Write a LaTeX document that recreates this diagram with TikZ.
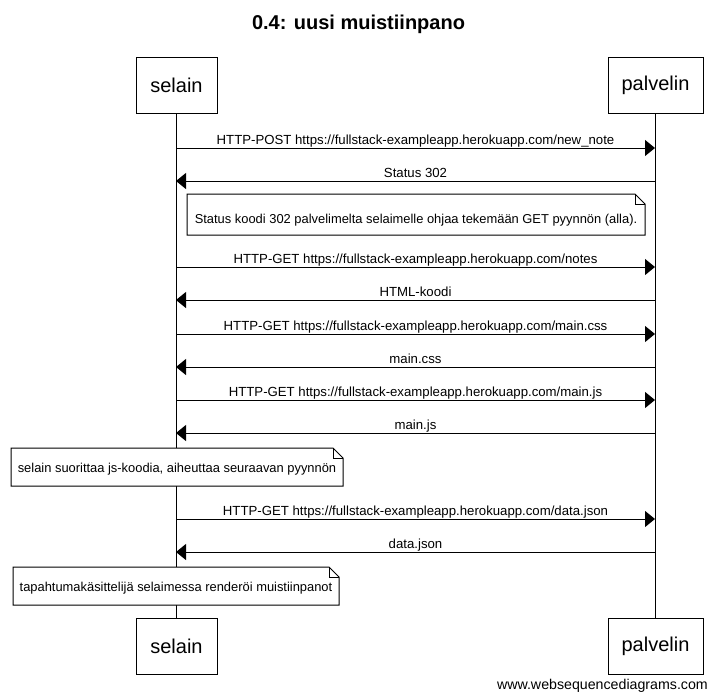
\documentclass[tikz,border=0pt]{standalone}
\usepackage{fontspec}
\setmainfont{Liberation Sans}
\usetikzlibrary{arrows.meta}
\begin{document}
\begin{tikzpicture}[x=1pt,y=-1pt,
  actor/.style={draw,line width=1pt,fill=white,minimum height=56pt,inner sep=0pt,
    font=\fontsize{20}{24}\selectfont},
  life/.style={line width=1pt},
  msg/.style={line width=1pt,-{Triangle[length=10pt,width=16pt]}},
  lbl/.style={inner sep=0pt,anchor=base,font=\fontsize{13.2}{15}\selectfont},
  notebox/.style={draw,line width=1pt,fill=white,line join=miter},
  notetext/.style={inner sep=0pt,anchor=base,font=\fontsize{12.9}{15}\selectfont}]
\useasboundingbox (0,0) rectangle (717,699);

% title
\node[inner sep=0pt,font=\bfseries\fontsize{20}{24}\selectfont] (title) at (358.5,24) {0.4: uusi muistiinpano};

% participants, top and bottom
\node[actor,minimum width=81pt] (st) at (176.5,85) {selain};
\node[actor,minimum width=95pt] (pt) at (655.5,85) {palvelin};
\node[actor,minimum width=81pt] (sb) at (176.5,646.5) {selain};
\node[actor,minimum width=95pt] (pb) at (655.5,646.5) {palvelin};

% lifelines
\draw[life] (st.south) -- (sb.north);
\draw[life] (pt.south) -- (pb.north);

% message end points on the lifelines
\foreach \i/\y in {1/148,2/181,4/267,5/300,6/334,7/367,8/400,9/433,11/519,12/552}{
  \coordinate (s\i) at (176,\y);
  \coordinate (p\i) at (655,\y);
}

% messages, labels sit just above the arrow line
\draw[msg] (s1) -- (p1);
\node[lbl] (m1) at (415.5,144) {HTTP-POST https://fullstack-exampleapp.herokuapp.com/new\_note};
\draw[msg] (p2) -- (s2);
\node[lbl] (m2) at (415.5,177) {Status 302};
\draw[msg] (s4) -- (p4);
\node[lbl] (m4) at (415.5,263) {HTTP-GET https://fullstack-exampleapp.herokuapp.com/notes};
\draw[msg] (p5) -- (s5);
\node[lbl] (m5) at (415.5,296) {HTML-koodi};
\draw[msg] (s6) -- (p6);
\node[lbl] (m6) at (415.5,330) {HTTP-GET https://fullstack-exampleapp.herokuapp.com/main.css};
\draw[msg] (p7) -- (s7);
\node[lbl] (m7) at (415.5,363) {main.css};
\draw[msg] (s8) -- (p8);
\node[lbl] (m8) at (415.5,396) {HTTP-GET https://fullstack-exampleapp.herokuapp.com/main.js};
\draw[msg] (p9) -- (s9);
\node[lbl] (m9) at (415.5,429) {main.js};
\draw[msg] (s11) -- (p11);
\node[lbl] (m11) at (415.5,515) {HTTP-GET https://fullstack-exampleapp.herokuapp.com/data.json};
\draw[msg] (p12) -- (s12);
\node[lbl] (m12) at (415.5,548) {data.json};

% notes with folded corner: x1,y1,x2,y2
\foreach \xa/\ya/\xb/\yb in {187/194/645/235, 11/448/343/486, 13/567/339/605}{
  \draw[notebox] (\xa,\ya) -- (\xb-10,\ya) -- (\xb,\ya+10) -- (\xb,\yb) -- (\xa,\yb) -- cycle;
  \draw[line width=1pt,line join=miter] (\xb-10,\ya) -- (\xb-10,\ya+10) -- (\xb,\ya+10);
}
\node[notetext] (n3) at (416,223) {Status koodi 302 palvelimelta selaimelle ohjaa tekemään GET pyynnön (alla).};
\node[notetext] (n10) at (177,472) {selain suorittaa js-koodia, aiheuttaa seuraavan pyynnön};
\node[notetext] (n13) at (176,591) {tapahtumakäsittelijä selaimessa renderöi muistiinpanot};

% footer
\node[inner sep=0pt,anchor=base east,font=\fontsize{14.2}{16}\selectfont] (wm) at (708,689) {www.websequencediagrams.com};
\end{tikzpicture}
\end{document}
